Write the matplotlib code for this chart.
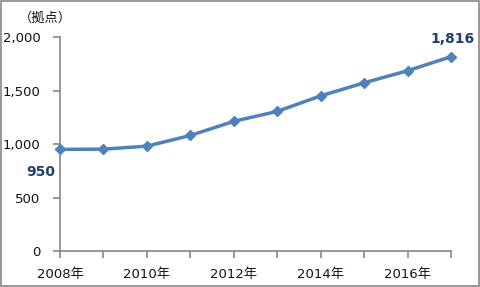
import matplotlib
matplotlib.use("Agg")
import matplotlib.pyplot as plt
from matplotlib.patches import Rectangle

plt.rcParams["font.family"] = ["DejaVu Sans", "Noto Sans CJK JP"]

# データ
years = [2008, 2009, 2010, 2011, 2012, 2013, 2014, 2015, 2016, 2017]
counts = [950, 952, 980, 1080, 1212, 1305, 1450, 1572, 1685, 1816]
yticks = [0, 500, 1000, 1500, 2000]
xlabels = [f"{y}年" if y % 2 == 0 else "" for y in years]

LINE = "#4F81BD"
LABEL = "#1F3F6F"
AXIS = "#868686"
TEXT = "#111122"

fig = plt.figure(figsize=(4.8, 2.87), dpi=100)
ax = fig.add_axes([0.125, 0.1254, 0.8146, 0.7456])

x = list(range(len(years)))
ax.plot(x, counts, color=LINE, linewidth=2.5, marker="D", markersize=5.5,
        markeredgecolor=LINE, markerfacecolor=LINE, zorder=3, clip_on=False)

ax.set_xlim(0, len(years) - 1)
ax.set_ylim(0, 2000)
ax.set_xticks(x)
ax.set_xticklabels(xlabels)
ax.set_yticks(yticks)
ax.set_yticklabels([f"{v:,}" for v in yticks])

for s in ["top", "right"]:
    ax.spines[s].set_visible(False)
for s in ["left", "bottom"]:
    ax.spines[s].set_color(AXIS)
    ax.spines[s].set_linewidth(1.2)
ax.tick_params(axis="both", colors=AXIS, length=5, width=1.2, labelsize=9.5,
               labelcolor=TEXT)
ax.tick_params(axis="x", pad=7)
ax.tick_params(axis="y", pad=9)

# データラベル
ax.annotate(f"{counts[0]:,}", (x[0], counts[0]), xytext=(-14, -16),
            textcoords="offset points", ha="center", va="center",
            fontsize=10, fontweight="bold", color=LABEL)
ax.annotate(f"{counts[-1]:,}", (x[-1], counts[-1]), xytext=(1, 13),
            textcoords="offset points", ha="center", va="center",
            fontsize=10, fontweight="bold", color=LABEL)

fig.text(0.04, 0.935, "（拠点）", fontsize=9.5, color=TEXT,
         family=["Noto Sans CJK JP", "DejaVu Sans"], ha="left", va="center")

fig.patches.append(Rectangle((0.002, 0.003), 0.995, 0.994, transform=fig.transFigure,
                             fill=False, edgecolor=AXIS, linewidth=1.2))

fig.savefig("out.png", dpi=100, facecolor="white")
